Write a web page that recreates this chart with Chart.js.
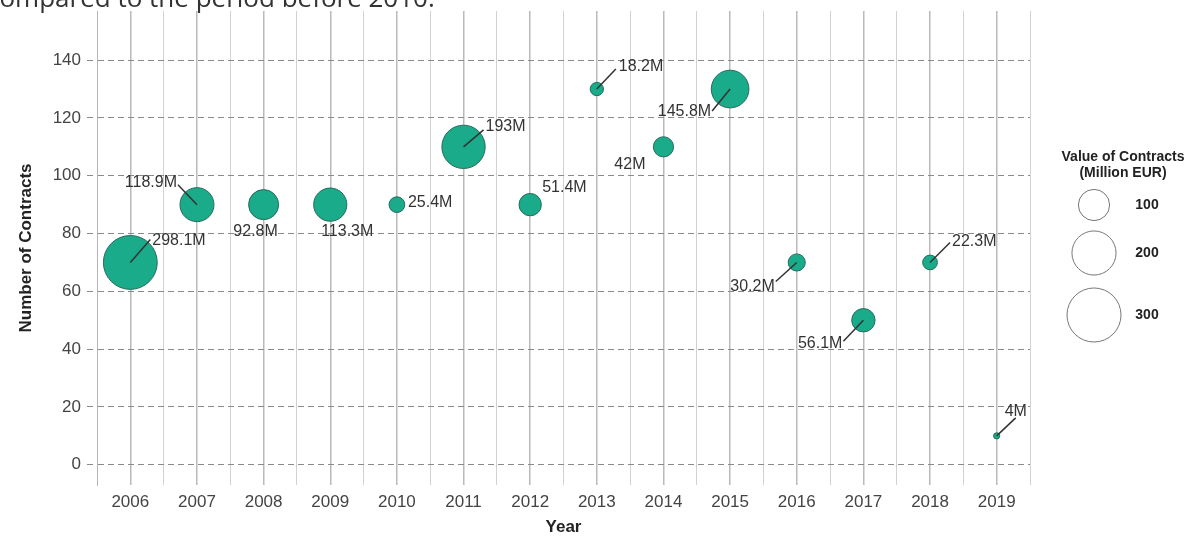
<!DOCTYPE html>
<html>
<head>
<meta charset="utf-8">
<script src="https://cdn.jsdelivr.net/npm/chart.js@4"></script>
<style>
  html, body { margin: 0; padding: 0; background: #fff; overflow: hidden; }
  #wrap { position: relative; width: 1203px; height: 536px; }
  #chart { display: block; }
  #intro {
    position: absolute; left: -13px; top: -16px; white-space: nowrap;
    font-family: 'Open Sans', sans-serif; font-size: 26px; line-height: 26px; color: #333;
  }
</style>
</head>
<body>
<div id="wrap">
  <canvas id="chart" width="1203" height="536"></canvas>
  <div id="intro">compared to the period before 2010.</div>
</div>
<script>
// Values
const years = [2006, 2007, 2008, 2009, 2010, 2011, 2012, 2013, 2014, 2015, 2016, 2017, 2018, 2019];
const contracts = [70, 90, 90, 90, 90, 110, 90, 130, 110, 130, 70, 50, 70, 10];
const valueMillion = [298.1, 118.9, 92.8, 113.3, 25.4, 193, 51.4, 18.2, 42, 145.8, 30.2, 56.1, 22.3, 4];
const valueLabels = ['298.1M', '118.9M', '92.8M', '113.3M', '25.4M', '193M', '51.4M', '18.2M', '42M', '145.8M', '30.2M', '56.1M', '22.3M', '4M'];
const yTicks = [0, 20, 40, 60, 80, 100, 120, 140];
const legendValues = [100, 200, 300];

// where each value label sits, relative to its bubble: [textDx, textDy, align, lineDx, lineDy]
const labelPlacement = [
    [22, -22, 'left', 20, -23],
    [-20, -22, 'right', -19, -20],
    [-8, 27, 'center', null, null],
    [17, 27, 'center', null, null],
    [11, -2, 'left', null, null],
    [22, -20, 'left', 20, -17],
    [12, -17, 'left', null, null],
    [22, -22, 'left', 19, -20],
    [-18, 18, 'right', null, null],
    [-19, 23, 'right', -18, 22],
    [-22, 24, 'right', -21, 19],
    [-21, 23, 'right', -20, 21],
    [22, -21, 'left', 20, -20],
    [8, -24, 'left', 19, -18]
];

// bubble area proportional to contract value
function radiusFor(v) {
    return 1.56 * Math.sqrt(v);
}

const FONT = "'Liberation Sans', Arial, sans-serif";

// x ticks on every year and halfway between years
const xTicks = [];
years.forEach(y => { xTicks.push(y - 0.5); xTicks.push(y); });
xTicks.push(years[years.length - 1] + 0.5);

// Draw value labels with their leader lines
const valueLabelPlugin = {
    id: 'valueLabels',
    afterDatasetsDraw(chart) {
        const ctx = chart.ctx;
        const meta = chart.getDatasetMeta(0);
        ctx.save();
        ctx.font = '16px ' + FONT;
        ctx.fillStyle = '#333';
        ctx.strokeStyle = '#333';
        ctx.lineWidth = 1.5;
        ctx.textBaseline = 'middle';
        meta.data.forEach((pt, i) => {
            const [tx, ty, align, lx, ly] = labelPlacement[i];
            if (lx !== null) {
                ctx.beginPath();
                ctx.moveTo(pt.x, pt.y);
                ctx.lineTo(pt.x + lx, pt.y + ly);
                ctx.stroke();
            }
            ctx.textAlign = align;
            ctx.fillText(valueLabels[i], pt.x + tx, pt.y + ty);
        });
        ctx.restore();
    }
};

// Size legend on the right
const sizeLegendPlugin = {
    id: 'sizeLegend',
    afterDraw(chart) {
        const ctx = chart.ctx;
        const right = chart.chartArea.right;
        const cx = right + 64;
        ctx.save();
        ctx.fillStyle = '#222';
        ctx.textAlign = 'center';
        ctx.textBaseline = 'middle';
        ctx.font = 'bold 14px ' + FONT;
        ctx.fillText('Value of Contracts', right + 93, 157);
        ctx.fillText('(Million EUR)', right + 93, 173);
        const rowY = [205, 253, 315];
        legendValues.forEach((v, i) => {
            ctx.beginPath();
            ctx.arc(cx, rowY[i], radiusFor(v), 0, Math.PI * 2);
            ctx.strokeStyle = '#777';
            ctx.lineWidth = 1;
            ctx.stroke();
            ctx.fillText(String(v), right + 117, rowY[i]);
        });
        ctx.restore();
    }
};

const ctx = document.getElementById('chart').getContext('2d');
new Chart(ctx, {
    type: 'bubble',
    data: {
        datasets: [{
            label: 'Contracts',
            data: years.map((y, i) => ({ x: y, y: contracts[i], r: radiusFor(valueMillion[i]) })),
            backgroundColor: '#1aab8a',
            borderColor: '#266b5a',
            borderWidth: 1
        }]
    },
    options: {
        responsive: false,
        animation: false,
        events: [],
        // autoPadding off, otherwise the largest bubble pads the top of the plot
        layout: { autoPadding: false, padding: { top: 11, right: 173, left: 0, bottom: 0 } },
        plugins: {
            legend: { display: false },
            tooltip: { enabled: false }
        },
        scales: {
            x: {
                type: 'linear',
                min: years[0] - 0.5,
                max: years[years.length - 1] + 0.5,
                afterBuildTicks: axis => { axis.ticks = xTicks.map(v => ({ value: v })); },
                afterFit: axis => { axis.height = 51; axis.paddingLeft = 0; axis.paddingRight = 0; },
                border: { display: false },
                grid: {
                    drawTicks: false,
                    color: c => Number.isInteger(c.tick.value) ? '#bababa' : '#d2d2d2',
                    lineWidth: c => Number.isInteger(c.tick.value) ? 1.5 : 1
                },
                ticks: {
                    autoSkip: false,
                    maxRotation: 0,
                    padding: 7,
                    color: '#444',
                    font: { family: FONT, size: 17 },
                    callback: v => Number.isInteger(v) ? String(v) : ''
                },
                title: {
                    display: true,
                    text: 'Year',
                    color: '#222',
                    font: { family: FONT, size: 17, weight: 'bold', lineHeight: 1 },
                    padding: { top: 0, bottom: 0 }
                }
            },
            y: {
                min: -7,
                max: 157,
                afterBuildTicks: axis => { axis.ticks = yTicks.map(v => ({ value: v })); },
                afterFit: axis => { axis.width = 97; axis.paddingTop = 0; axis.paddingBottom = 0; },
                // in Chart.js v4 border.dash styles the grid lines
                border: { display: true, color: '#b5b5b5', width: 1, dash: [6, 4] },
                grid: {
                    color: '#8a8a8a',
                    lineWidth: 1,
                    tickLength: 10,
                    tickColor: '#8a8a8a',
                    tickBorderDash: [6, 4]
                },
                ticks: {
                    padding: 6,
                    color: '#444',
                    font: { family: FONT, size: 17 }
                },
                title: {
                    display: true,
                    text: 'Number of Contracts',
                    color: '#222',
                    font: { family: FONT, size: 17, weight: 'bold', lineHeight: 1 },
                    padding: { top: 18, bottom: 0 }
                }
            }
        }
    },
    plugins: [valueLabelPlugin, sizeLegendPlugin]
});
</script>
</body>
</html>
